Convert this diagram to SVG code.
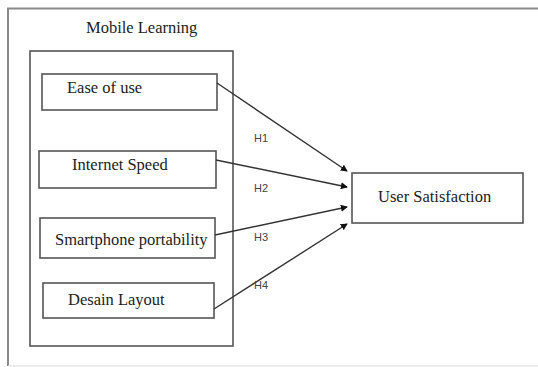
<svg xmlns="http://www.w3.org/2000/svg" width="538" height="367" viewBox="0 0 538 367">
  <style>
    .frame { fill: none; stroke: #8a8a8a; stroke-width: 2; }
    .box { fill: #ffffff; stroke: #555555; stroke-width: 1.6; }
    .label { font-family: "Liberation Serif", "Times New Roman", serif; font-size: 16.5px; fill: #222222; }
    .hyp { font-family: "Liberation Sans", Arial, sans-serif; font-size: 11px; fill: #444444; text-anchor: middle; }
    .link { fill: none; stroke: #333333; stroke-width: 1.4; marker-end: url(#head); }
  </style>
  <defs>
    <marker id="head" viewBox="0 0 8 8" refX="7" refY="4" markerWidth="5" markerHeight="5" markerUnits="strokeWidth" orient="auto">
      <path d="M0,0 L8,4 L0,8 Z" fill="#111111"/>
    </marker>
  </defs>
  <rect width="538" height="367" fill="#ffffff"/>

  <!-- outer frame: top, left and faint bottom edge -->
  <g id="frame">
    <path class="frame" d="M8,366 L8,8.5 L538,8.5"/>
    <line x1="8" y1="366" x2="538" y2="366" stroke="#e6e6e6" stroke-width="1.5"/>
  </g>

  <g id="mobile-learning">
    <rect class="box" x="30" y="51" width="203" height="295" stroke="#666666"/>
    <text class="label" x="86" y="33">Mobile Learning</text>
  </g>

  <g id="ease-of-use">
    <rect class="box" x="42" y="74" width="175" height="36"/>
    <text class="label" x="67" y="93">Ease of use</text>
  </g>

  <g id="internet-speed">
    <rect class="box" x="39" y="151" width="177" height="37"/>
    <text class="label" x="72" y="170">Internet Speed</text>
  </g>

  <g id="smartphone-portability">
    <rect class="box" x="40" y="218" width="175" height="40"/>
    <text class="label" x="55" y="245">Smartphone portability</text>
  </g>

  <g id="desain-layout">
    <rect class="box" x="43" y="283" width="171" height="35"/>
    <text class="label" x="68" y="305">Desain Layout</text>
  </g>

  <g id="user-satisfaction">
    <rect class="box" x="352" y="173" width="171" height="50"/>
    <text class="label" x="378" y="202">User Satisfaction</text>
  </g>

  <g id="connectors">
    <line class="link" x1="217" y1="83" x2="347" y2="171"/>
    <line class="link" x1="216" y1="160" x2="347" y2="187"/>
    <line class="link" x1="215" y1="235" x2="347" y2="207"/>
    <line class="link" x1="214" y1="309" x2="347" y2="224"/>
    <text class="hyp" x="261" y="142">H1</text>
    <text class="hyp" x="261" y="192">H2</text>
    <text class="hyp" x="261" y="241">H3</text>
    <text class="hyp" x="261" y="289">H4</text>
  </g>
</svg>
